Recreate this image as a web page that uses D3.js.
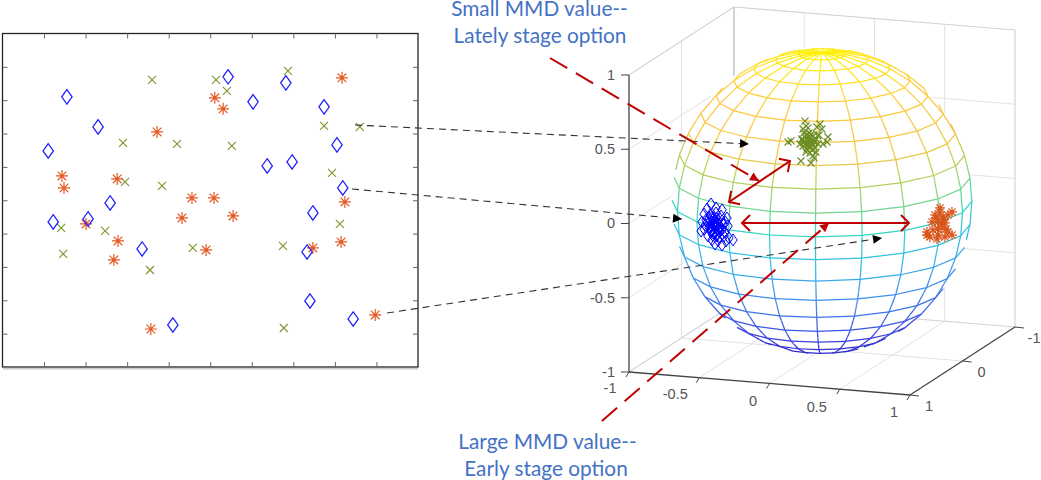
<!DOCTYPE html>
<html><head><meta charset="utf-8">
<script src="https://cdn.jsdelivr.net/npm/d3@7/dist/d3.min.js"></script>
<style>html,body{margin:0;padding:0;background:#fff}body{position:relative;width:1041px;height:480px;overflow:hidden}svg{display:block}</style></head>
<body><svg id="c" width="1041" height="480"></svg>
<script>
// ---------- data: flat scatter (left panel), axis units 0..10
const flatBlueX=[1.55,2.30,1.10,5.43,6.03,6.82,7.74,8.05,6.37,6.97,8.19,2.59,1.22,2.06,3.36,4.10,7.47,7.33,7.40,8.44];
const flatBlueY=[8.10,7.20,6.48,8.70,7.95,8.52,7.80,6.66,6.03,6.15,5.37,4.92,4.35,4.44,3.54,1.26,4.62,3.45,1.98,1.44];
const flatGreenX=[3.60,5.14,2.90,4.20,2.95,3.84,6.87,5.40,7.74,8.60,5.52,7.93,1.41,1.46,2.47,3.55,4.58,8.12,6.75,6.77];
const flatGreenY=[8.61,8.61,6.72,6.69,5.55,5.43,8.88,8.28,7.23,7.20,6.63,5.82,4.17,3.39,4.08,2.91,3.57,4.29,3.63,1.17];
const flatOrangeX=[1.43,1.48,3.72,2.76,5.11,4.56,5.09,8.17,5.31,4.32,2.01,2.78,2.68,4.90,3.57,5.55,8.24,8.15,7.47,8.97];
const flatOrangeY=[5.73,5.37,7.05,5.64,8.07,5.07,5.07,8.67,7.74,4.47,4.29,3.78,3.21,3.51,1.14,4.53,4.95,3.75,3.57,1.56];
const flatTicks=[1,2,3,4,5,6,7,8,9];
// ---------- data: clusters on the sphere, in view-plane units (-1..1)
const sphereBlueH=[-.743,-.717,-.69,-.73,-.703,-.677,-.757,-.717,-.69,-.737,-.663,-.77,-.703,-.67,-.75,-.723,-.697,-.797,-.803,-.783,-.763,-.737,-.703,-.663,-.63,-.623,-.643,-.617,-.59,-.637,-.677,-.73,-.757,-.783,-.71,-.663,-.725,-.71,-.695,-.72,-.705,-.735,-.70,-.715,-.685,-.73,-.745,-.68,-.75,-.71,-.655,-.68,-.70,-.725,-.665,-.64,-.775,-.69,-.735,-.65];
const sphereBlueV=[-.098,-.118,-.131,-.144,-.157,-.17,-.157,-.176,-.19,-.196,-.137,-.131,-.085,-.105,-.118,-.216,-.222,-.144,-.203,-.092,-.059,-.026,-.052,-.065,-.118,-.17,-.209,-.248,-.261,-.268,-.242,-.261,-.235,-.19,-.288,-.294,-.125,-.135,-.15,-.165,-.18,-.17,-.12,-.15,-.16,-.11,-.14,-.185,-.18,-.205,-.155,-.21,-.235,-.23,-.195,-.145,-.165,-.265,-.21,-.235];
const sphereGreenH=[-.13,-.11,-.09,-.07,-.05,-.103,-.077,-.123,-.057,-.037,-.023,-.083,-.117,-.097,-.063,-.043,-.143,-.017,-.223,-.203,-.11,-.103,-.123,-.09,-.01,.003,-.03,.043,.037,.01,-.037,-.057,-.077,-.103,-.137,-.07,-.05,-.10,-.085,-.065,-.12,-.075,-.095,-.055,-.11,-.08,-.045,-.09,-.13,-.06,-.025,-.07,-.10,-.085];
const sphereGreenV=[.392,.412,.386,.405,.379,.359,.353,.353,.418,.399,.366,.438,.438,.333,.327,.34,.366,.425,.379,.386,.516,.484,.464,.471,.497,.464,.477,.412,.379,.366,.314,.288,.307,.314,.255,.242,.275,.40,.395,.39,.375,.375,.37,.365,.385,.415,.385,.35,.40,.355,.42,.43,.425,.365];
const sphereOrangeH=[.79,.87,.757,.81,.843,.737,.777,.823,.803,.703,.743,.843,.87,.777,.723,.703,.823,.77,.79,.76,.80,.83,.775,.815];
const sphereOrangeV=[-.052,-.078,-.098,-.111,-.098,-.144,-.144,-.15,-.183,-.209,-.196,-.209,-.229,-.229,-.242,-.229,-.242,-.255,-.08,-.12,-.15,-.19,-.19,-.125];
const xTicks3=[-1,-0.5,0,0.5,1], yTicks3=[-1,0,1], zTicks3=[-1,-0.5,0,0.5,1];
const noteTop=["Small MMD value--","Lately stage option"];
const noteBottom=["Large MMD value--","Early stage option"];

const svg=d3.select("#c");
const BLUE="#0000ff",GREEN="#6b8e23",ORANGE="#d95319";
const defs=svg.append("defs");
defs.append("filter").attr("id","soft").attr("x","-2%").attr("y","-2%").attr("width","104%").attr("height","104%").append("feGaussianBlur").attr("stdDeviation",0.35);
function mk(id,color,w,h,open){
  const m=defs.append("marker").attr("id",id).attr("markerUnits","userSpaceOnUse").attr("orient","auto-start-reverse")
    .attr("markerWidth",w+4).attr("markerHeight",h+4).attr("viewBox",`${-w-1} ${-h/2-2} ${w+4} ${h+4}`).attr("refX",0).attr("refY",0);
  if(open) m.append("path").attr("d",`M${-w},${-h/2}L0,0L${-w},${h/2}`).attr("fill","none").attr("stroke",color).attr("stroke-width",2);
  else m.append("path").attr("d",`M${-w},${-h/2}L0,0L${-w},${h/2}Z`).attr("fill",color);
}
mk("blk","#000",9,9,false); mk("redh","#c00000",9,9,false); mk("redo","#c00000",8,16,true);

function diamond(g,x,y,a,b,color,sw){g.append("path").attr("d",`M${x},${y-b}L${x+a},${y}L${x},${y+b}L${x-a},${y}Z`).attr("fill","none").attr("stroke",color).attr("stroke-width",sw);}
function cross(g,x,y,a,color,sw){g.append("path").attr("d",`M${x-a},${y-a}L${x+a},${y+a}M${x-a},${y+a}L${x+a},${y-a}`).attr("fill","none").attr("stroke",color).attr("stroke-width",sw);}
function star(g,x,y,a,color,sw){const d=a*.72;g.append("path").attr("d",`M${x-a},${y}L${x+a},${y}M${x},${y-a}L${x},${y+a}M${x-d},${y-d}L${x+d},${y+d}M${x-d},${y+d}L${x+d},${y-d}`).attr("fill","none").attr("stroke",color).attr("stroke-width",sw);}

// ---------- left panel
const fx=d3.scaleLinear().domain([0,10]).range([2.5,418]);
const fy=d3.scaleLinear().domain([0,10]).range([367,33.5]);
const left=svg.append("g").attr("filter","url(#soft)");
left.append("rect").attr("x",3).attr("y",368).attr("width",415).attr("height",1.5).attr("fill","#ccc");
left.append("rect").attr("x",fx(0)).attr("y",fy(10)).attr("width",fx(10)-fx(0)).attr("height",fy(0)-fy(10)).attr("fill","#fff").attr("stroke","#222").attr("stroke-width",1.3);
function tickAxis(axis,tr){const g=left.append("g").attr("transform",tr).call(axis.tickValues(flatTicks).tickFormat("").tickSizeOuter(0));
  g.select(".domain").remove();g.selectAll(".tick line").attr("stroke","#666");}
tickAxis(d3.axisBottom(fx).tickSize(-5),`translate(0,${fy(0)})`);
tickAxis(d3.axisTop(fx).tickSize(-5),`translate(0,${fy(10)})`);
tickAxis(d3.axisLeft(fy).tickSize(-5),`translate(${fx(0)},0)`);
tickAxis(d3.axisRight(fy).tickSize(-5),`translate(${fx(10)},0)`);
flatGreenX.forEach((v,i)=>cross(left,fx(v),fy(flatGreenY[i]),4,"#7d9a35",1.2));
flatOrangeX.forEach((v,i)=>star(left,fx(v),fy(flatOrangeY[i]),6,"#e45a22",1.2));
flatBlueX.forEach((v,i)=>diamond(left,fx(v),fy(flatBlueY[i]),5.2,7.2,"#1f1fff",1.25));

// ---------- 3D axes
const P=(x,y,z)=>[822+140.5*x-52.5*y, 201+11.5*x+34*y-148.5*z];
const view=[0.35,0.9,0.24];
const right=svg.append("g").attr("filter","url(#soft)");
const seg=(a,b,c,sw)=>right.append("line").attr("x1",a[0]).attr("y1",a[1]).attr("x2",b[0]).attr("y2",b[1]).attr("stroke",c).attr("stroke-width",sw);
const grid="#e2e2e2",edge="#d4d4d4";
zTicks3.slice(1,-1).forEach(z=>{seg(P(-1,1,z),P(-1,-1,z),grid,1);seg(P(-1,-1,z),P(1,-1,z),grid,1);});
xTicks3.slice(1,-1).forEach(x=>{seg(P(x,-1,-1),P(x,-1,1),grid,1);seg(P(x,1,-1),P(x,-1,-1),grid,1);});
yTicks3.slice(1,-1).forEach(y=>{seg(P(-1,y,-1),P(-1,y,1),grid,1);seg(P(-1,y,-1),P(1,y,-1),grid,1);});
seg(P(-1,1,1),P(-1,-1,1),edge,1.2);seg(P(-1,-1,1),P(1,-1,1),edge,1.2);seg(P(1,-1,1),P(1,-1,-1),edge,1.2);
seg(P(-1,-1,1),P(-1,-1,-1),"#c8c8c8",1.6);seg(P(-1,1,-1),P(-1,-1,-1),edge,1.2);seg(P(-1,-1,-1),P(1,-1,-1),edge,1.2);

// sphere
const hS=d3.scaleLinear().domain([-1,1]).range([671.5,971.5]);
const vS=d3.scaleLinear().domain([-1,1]).range([353,47]);
right.append("ellipse").attr("cx",hS(0)).attr("cy",vS(0)).attr("rx",150).attr("ry",153).attr("fill","#fff");
const cmap=d3.scaleLinear().domain([-1,-.8,-.5,-.2,0,.2,.35,.5,.75,.92,1])
  .range(["#2a22c8","#3b3fe0","#3f86ee","#35bce8","#35d4c4","#85d580","#c0d050","#f5c645","#fcc93e","#ffe32a","#fff000"]);
const mesh=right.append("g").attr("fill","none").attr("stroke-width",1.25);
const rad=Math.PI/180;
const S3=(lat,lon)=>[Math.cos(lat*rad)*Math.cos(lon*rad),Math.cos(lat*rad)*Math.sin(lon*rad),Math.sin(lat*rad)];
const vis=p=>p[0]*view[0]+p[1]*view[1]+p[2]*view[2]>-0.01;
function edge3(a,b,n){const pts=d3.range(n+1).map(i=>[a[0]+(b[0]-a[0])*i/n,a[1]+(b[1]-a[1])*i/n,a[2]+(b[2]-a[2])*i/n]);
  for(let i=0;i<n;i++){const p=pts[i],q=pts[i+1],m=[(p[0]+q[0])/2,(p[1]+q[1])/2,(p[2]+q[2])/2];
    if(!vis(m))continue;const A=P(...p),B=P(...q);
    mesh.append("line").attr("x1",A[0]).attr("y1",A[1]).attr("x2",B[0]).attr("y2",B[1]).attr("stroke",cmap(m[2]));}}
const lats=d3.range(-90,91,9),lons=d3.range(-180,180,18);
lats.forEach(lat=>lons.forEach(lon=>edge3(S3(lat,lon),S3(lat,lon+18),1)));
lons.forEach(lon=>lats.slice(0,-1).forEach(lat=>edge3(S3(lat,lon),S3(lat+9,lon),3)));

// axes in front
const axc="#444";
seg(P(-1,1,-1),P(-1,1,1),axc,1.3);seg(P(-1,1,-1),P(1,1,-1),axc,1.3);seg(P(1,1,-1),P(1,-1,-1),axc,1.3);
zTicks3.forEach(z=>{const a=P(-1,1,z);seg([a[0]-8,a[1]],a,axc,1);});
xTicks3.forEach(x=>{const a=P(x,1,-1);seg(a,[a[0]-3,a[1]+5],axc,1);});
yTicks3.forEach(y=>{const a=P(1,y,-1);seg(a,[a[0]+9,a[1]+1],axc,1);});
const labels=svg.append("g");
const lab=(t,x,y,anc)=>labels.append("text").attr("x",x).attr("y",y).attr("text-anchor",anc||"middle").attr("dominant-baseline","middle").attr("font-family","Liberation Sans").attr("font-size",14.5).attr("fill","#555").text(t);
zTicks3.forEach(z=>{const a=P(-1,1,z);lab(String(z),a[0]-14,a[1]+1,"end");});
const xdx=[-19,-24,-16.5,-23,-16],xdy=[17,17,18.5,19,18];
xTicks3.forEach((x,i)=>{const a=P(x,1,-1);lab(String(x),a[0]+xdx[i],a[1]+xdy[i]);});
yTicks3.forEach(y=>{const a=P(1,y,-1);lab(String(y),a[0]+19,a[1]+12);});

// clusters
sphereGreenH.forEach((v,i)=>cross(right,hS(v),vS(sphereGreenV[i]),3.5,GREEN,1.2));
sphereOrangeH.forEach((v,i)=>star(right,hS(v),vS(sphereOrangeV[i]),5,ORANGE,1.2));
sphereBlueH.forEach((v,i)=>diamond(right,hS(v),vS(sphereBlueV[i]),4.2,6,BLUE,1));

// ---------- annotations
const an=svg.append("g").attr("fill","none");
const dashed=(x1,y1,x2,y2)=>an.append("line").attr("x1",x1).attr("y1",y1).attr("x2",x2).attr("y2",y2).attr("stroke","#333").attr("stroke-width",1.1).attr("stroke-dasharray","7 5").attr("marker-end","url(#blk)");
dashed(355,125,749,144);dashed(352,189,682,219);dashed(387,313,882,238);
const reddash=(x1,y1,x2,y2)=>an.append("line").attr("x1",x1).attr("y1",y1).attr("x2",x2).attr("y2",y2).attr("stroke","#c00000").attr("stroke-width",2).attr("stroke-dasharray","20 10").attr("marker-end","url(#redh)");
reddash(550,58,759,181);reddash(602,421,829,223);
const redarrow=(x1,y1,x2,y2)=>an.append("line").attr("x1",x1).attr("y1",y1).attr("x2",x2).attr("y2",y2).attr("stroke","#c00000").attr("stroke-width",2).attr("marker-start","url(#redo)").attr("marker-end","url(#redo)");
redarrow(729,202,790,161);redarrow(742,223,909,223);
// notes: tight line box, so each line's box sits inside the page
const note=(t,x,baseline)=>d3.select("body").append("div")
  .style("position","absolute").style("left",(x-110)+"px").style("width","220px").style("top",(baseline-16)+"px")
  .style("height","16px").style("line-height","16px").style("text-align","center").style("white-space","nowrap")
  .style("font-family","Lato").style("font-size","20.8px").style("color","#4472c4").text(t);
note(noteTop[0],539.5,16);note(noteTop[1],540,43);note(noteBottom[0],547.5,449);note(noteBottom[1],546,476);
</script></body></html>
